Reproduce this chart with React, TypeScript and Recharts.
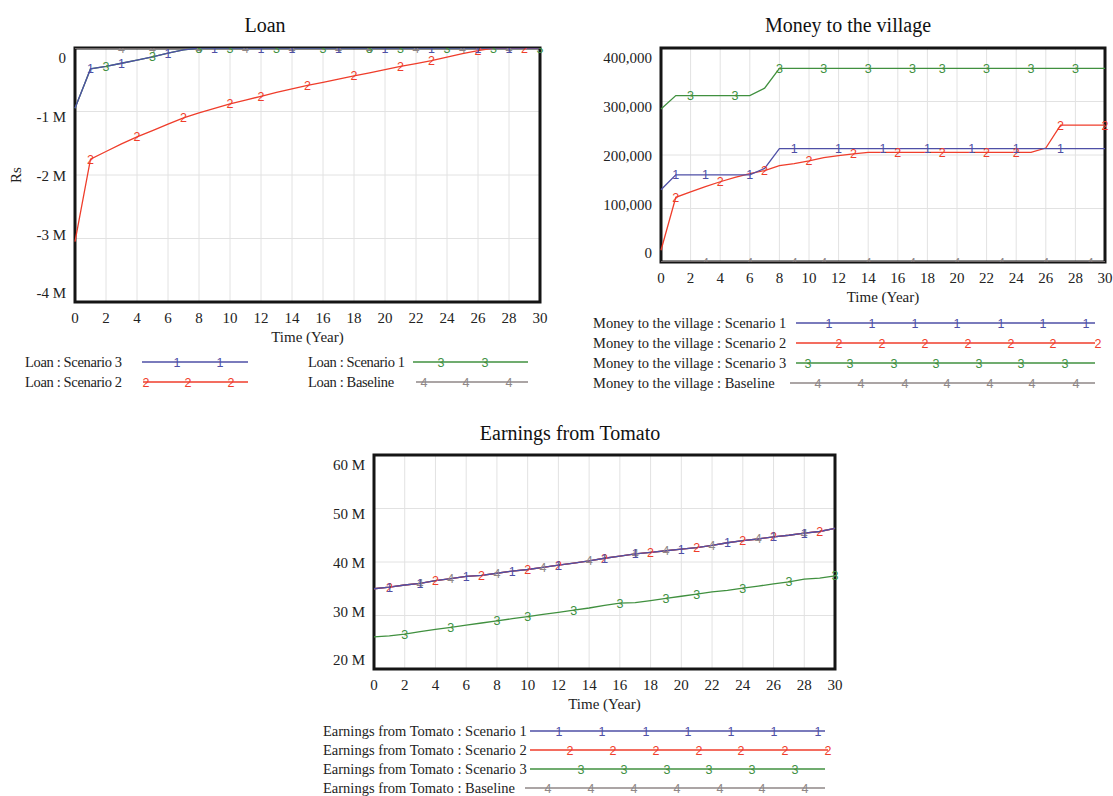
import React from 'react';
import { LineChart, Line, XAxis, YAxis, CartesianGrid, ReferenceArea, Legend } from 'recharts';

const SERIF = '"Liberation Serif", "Times New Roman", serif';
const SANS = '"Liberation Sans", Arial, sans-serif';

const BLUE = '#4e4fa6';
const RED = '#ef3d2b';
const GREEN = '#40903f';
const GRAY = '#8f8787';

// ---------- categories ----------
const years = [0, 1, 2, 3, 4, 5, 6, 7, 8, 9, 10, 11, 12, 13, 14, 15, 16, 17, 18, 19, 20, 21, 22, 23, 24, 25, 26, 27, 28, 29, 30];
const xTicks = [0, 2, 4, 6, 8, 10, 12, 14, 16, 18, 20, 22, 24, 26, 28, 30];

// ---------- Loan (million Rs) ----------
const loanScenario3 = [-0.95, -0.33, -0.29, -0.24, -0.19, -0.14, -0.08, -0.03, 0, 0, 0, 0, 0, 0, 0, 0, 0, 0, 0, 0, 0, 0, 0, 0, 0, 0, 0, 0, 0, 0, 0];
const loanScenario2 = [-3.05, -1.75, -1.63, -1.51, -1.4, -1.3, -1.2, -1.1, -1.02, -0.95, -0.88, -0.82, -0.76, -0.7, -0.645, -0.59, -0.54, -0.49, -0.44, -0.39, -0.34, -0.29, -0.245, -0.2, -0.145, -0.09, -0.04, 0, 0, 0, 0];
const loanScenario1 = [-0.95, -0.33, -0.29, -0.24, -0.19, -0.14, -0.08, -0.03, 0, 0, 0, 0, 0, 0, 0, 0, 0, 0, 0, 0, 0, 0, 0, 0, 0, 0, 0, 0, 0, 0, 0];
const loanBaseline = [0, 0, 0, 0, 0, 0, 0, 0, 0, 0, 0, 0, 0, 0, 0, 0, 0, 0, 0, 0, 0, 0, 0, 0, 0, 0, 0, 0, 0, 0, 0];
const loanTicks = [-4, -3, -2, -1, 0];
const loanMarks3 = [1, 3, 6, 9, 12, 14, 17, 20, 23, 26, 28];
const loanMarks2 = [1, 4, 7, 10, 12, 15, 18, 21, 23, 26, 29];
const loanMarks1 = [2, 5, 8, 10, 13, 16, 19, 21, 24, 27, 30];
const loanMarksBase = [3, 5, 8, 11, 14, 17, 19, 22, 25, 28];

// ---------- Money to the village (Rs) ----------
const moneyScenario1 = [135000, 163000, 163000, 163000, 163000, 163000, 163000, 175000, 212000, 212000, 212000, 212000, 212000, 212000, 212000, 212000, 212000, 212000, 212000, 212000, 212000, 212000, 212000, 212000, 212000, 212000, 212000, 212000, 212000, 212000, 212000];
const moneyScenario2 = [22000, 121000, 131000, 141000, 150000, 158000, 165000, 171000, 180000, 184000, 189000, 195000, 199000, 202000, 205000, 205000, 205000, 205000, 205000, 205000, 205000, 205000, 205000, 205000, 205000, 205000, 213000, 256000, 256000, 256000, 256000];
const moneyScenario3 = [286000, 311000, 311000, 311000, 311000, 311000, 311000, 325000, 362000, 362000, 362000, 362000, 362000, 362000, 362000, 362000, 362000, 362000, 362000, 362000, 362000, 362000, 362000, 362000, 362000, 362000, 362000, 362000, 362000, 362000, 362000];
const moneyBaseline = [0, 0, 0, 0, 0, 0, 0, 0, 0, 0, 0, 0, 0, 0, 0, 0, 0, 0, 0, 0, 0, 0, 0, 0, 0, 0, 0, 0, 0, 0, 0];
const moneyTicks = [0, 100000, 200000, 300000, 400000];
const moneyMarks1 = [1, 3, 6, 9, 12, 15, 18, 21, 24, 27];
const moneyMarks2 = [1, 4, 7, 10, 13, 16, 19, 22, 24, 27, 30];
const moneyMarks3 = [2, 5, 8, 11, 14, 17, 19, 22, 25, 28];
const moneyMarksBase = [3, 6, 9, 11, 14, 17, 20, 23, 26, 29];

// ---------- Earnings from Tomato (million Rs) ----------
const earnScenario1 = [35.0, 35.3, 35.7, 36.0, 36.5, 36.9, 37.3, 37.5, 37.9, 38.3, 38.6, 39.0, 39.4, 39.8, 40.2, 40.7, 41.1, 41.5, 41.8, 42.1, 42.4, 42.7, 43.1, 43.6, 44.0, 44.3, 44.7, 45.0, 45.4, 45.7, 46.3];
const earnScenario2 = [35.0, 35.3, 35.7, 36.0, 36.5, 36.9, 37.3, 37.5, 37.9, 38.3, 38.6, 39.0, 39.4, 39.8, 40.2, 40.7, 41.1, 41.5, 41.8, 42.1, 42.4, 42.7, 43.1, 43.6, 44.0, 44.3, 44.7, 45.0, 45.4, 45.7, 46.3];
const earnScenario3 = [26.0, 26.2, 26.5, 27.0, 27.4, 27.8, 28.2, 28.6, 29.0, 29.4, 29.8, 30.2, 30.6, 31.0, 31.4, 31.9, 32.3, 32.4, 32.8, 33.2, 33.6, 34.0, 34.4, 34.7, 35.1, 35.5, 35.9, 36.3, 36.8, 37.0, 37.4];
const earnBaseline = [35.0, 35.3, 35.7, 36.0, 36.5, 36.9, 37.3, 37.5, 37.9, 38.3, 38.6, 39.0, 39.4, 39.8, 40.2, 40.7, 41.1, 41.5, 41.8, 42.1, 42.4, 42.7, 43.1, 43.6, 44.0, 44.3, 44.7, 45.0, 45.4, 45.7, 46.3];
const earnTicks = [20, 30, 40, 50, 60];
const earnMarks1 = [1, 3, 6, 9, 12, 15, 17, 20, 23, 26, 28];
const earnMarks2 = [1, 4, 7, 10, 12, 15, 18, 21, 24, 26, 29];
const earnMarks3 = [2, 5, 8, 10, 13, 16, 19, 21, 24, 27, 30];
const earnMarksBase = [3, 5, 8, 11, 14, 17, 19, 22, 25, 28];

type SeriesDef = {
  key: string;
  name: string;
  color: string;
  digit: string;
  values: number[];
  markers: number[];
};

type LegendItem = {
  key: string;
  tx: number;
  y: number;
  x1: number;
  x2: number;
  marks: number[];
};

function buildRows(series: SeriesDef[]) {
  return years.map((year, i) => {
    const row: Record<string, number> = { year };
    series.forEach((s) => {
      row[s.key] = s.values[i];
    });
    return row;
  });
}

function makeDot(s: SeriesDef) {
  return (props: any) => {
    const { cx, cy, payload, index } = props;
    const k = `${s.key}-dot-${index}`;
    if (cx == null || cy == null || !payload || !s.markers.includes(payload.year)) {
      return <g key={k} />;
    }
    return (
      <text
        key={k}
        x={cx}
        y={cy}
        dy="0.36em"
        textAnchor="middle"
        fontSize={12.5}
        fontFamily={SANS}
        fill={s.color}
      >
        {s.digit}
      </text>
    );
  };
}

const XTick = (props: any) => {
  const { x, y, payload } = props;
  return (
    <text x={x} y={y + 16} dy="0.35em" textAnchor="middle" fontSize={15} fontFamily={SERIF} fill="#222">
      {payload.value}
    </text>
  );
};

function makeYTick(min: number, max: number, fmt: (v: number) => string) {
  return (props: any) => {
    const { x, y, payload } = props;
    const t = (payload.value - min) / (max - min);
    const shift = -9 + 19 * t;
    return (
      <text x={x} y={y + shift} dy="0.35em" textAnchor="end" fontSize={15} fontFamily={SERIF} fill="#222">
        {fmt(payload.value)}
      </text>
    );
  };
}

function makeLegend(series: SeriesDef[], items: LegendItem[], letterSpacing: number) {
  return () => (
    <div style={{ position: 'relative', width: 0, height: 0 }}>
      {items.map((it) => {
        const s = series.find((q) => q.key === it.key)!;
        return (
          <React.Fragment key={it.key}>
            <div
              style={{
                position: 'absolute',
                left: it.tx,
                top: it.y - 10,
                height: 20,
                lineHeight: '20px',
                fontFamily: SERIF,
                fontSize: 14.5,
                letterSpacing,
                color: '#222',
                whiteSpace: 'nowrap',
              }}
            >
              {s.name}
            </div>
            <svg
              style={{ position: 'absolute', left: it.x1 - 6, top: it.y - 10, overflow: 'visible' }}
              width={it.x2 - it.x1 + 12}
              height={20}
            >
              <line x1={6} y1={10} x2={it.x2 - it.x1 + 6} y2={10} stroke={s.color} strokeWidth={1.3} />
              {it.marks.map((m, i) => (
                <text
                  key={i}
                  x={m - it.x1 + 6}
                  y={10}
                  dy="0.36em"
                  textAnchor="middle"
                  fontSize={12.5}
                  fontFamily={SANS}
                  fill={s.color}
                >
                  {s.digit}
                </text>
              ))}
            </svg>
          </React.Fragment>
        );
      })}
    </div>
  );
}

type ChartProps = {
  left: number;
  top: number;
  width: number;
  height: number;
  margin: { top: number; right: number; bottom: number; left: number };
  yAxisWidth: number;
  series: SeriesDef[];
  legendItems: LegendItem[];
  legendSpacing: number;
  domain: [number, number];
  yTicks: number[];
  yFmt: (v: number) => string;
  yLabel?: string;
};

function VChart(p: ChartProps) {
  const data = buildRows(p.series);
  return (
    <div style={{ position: 'absolute', left: p.left, top: p.top }}>
      <LineChart width={p.width} height={p.height} data={data} margin={p.margin}>
        <CartesianGrid stroke="#e2e2e2" strokeWidth={1} />
        <ReferenceArea
          x1={0}
          x2={30}
          y1={p.domain[0]}
          y2={p.domain[1]}
          fill="none"
          fillOpacity={0}
          stroke="#151515"
          strokeWidth={3}
          ifOverflow="visible"
        />
        <XAxis
          dataKey="year"
          type="number"
          domain={[0, 30]}
          ticks={xTicks}
          interval={0}
          tick={XTick}
          tickLine={false}
          axisLine={false}
          tickSize={0}
          tickMargin={0}
          height={45}
          label={{
            value: 'Time (Year)',
            position: 'insideBottom',
            offset: 5,
            style: { fontFamily: SERIF, fontSize: 15, fill: '#222' },
          }}
        />
        <YAxis
          type="number"
          domain={p.domain}
          ticks={p.yTicks}
          interval={0}
          allowDataOverflow
          tick={makeYTick(p.domain[0], p.domain[1], p.yFmt)}
          tickLine={false}
          axisLine={false}
          tickSize={0}
          tickMargin={9}
          width={p.yAxisWidth}
          label={
            p.yLabel
              ? {
                  value: p.yLabel,
                  angle: -90,
                  position: 'insideLeft',
                  offset: 16,
                  style: { fontFamily: SERIF, fontSize: 15, fill: '#222', textAnchor: 'middle' },
                }
              : undefined
          }
        />
        {p.series.map((s) => (
          <Line
            key={s.key}
            dataKey={s.key}
            name={s.name}
            type="linear"
            stroke={s.color}
            strokeWidth={1.3}
            dot={makeDot(s)}
            activeDot={false}
            isAnimationActive={false}
          />
        ))}
        <Legend
          layout="horizontal"
          verticalAlign="middle"
          align="center"
          wrapperStyle={{ position: 'absolute', left: 0, top: 0, width: 0, height: 0 }}
          content={makeLegend(p.series, p.legendItems, p.legendSpacing)}
        />
      </LineChart>
    </div>
  );
}

// ---------- series definitions (draw order: baseline, 3, 2, 1) ----------
const loanSeries: SeriesDef[] = [
  { key: 'base', name: 'Loan : Baseline', color: GRAY, digit: '4', values: loanBaseline, markers: loanMarksBase },
  { key: 's1', name: 'Loan : Scenario 1', color: GREEN, digit: '3', values: loanScenario1, markers: loanMarks1 },
  { key: 's2', name: 'Loan : Scenario 2', color: RED, digit: '2', values: loanScenario2, markers: loanMarks2 },
  { key: 's3', name: 'Loan : Scenario 3', color: BLUE, digit: '1', values: loanScenario3, markers: loanMarks3 },
];
const loanLegend: LegendItem[] = [
  { key: 's3', tx: 25, y: 362, x1: 142, x2: 248, marks: [177, 220] },
  { key: 's2', tx: 25, y: 382, x1: 143, x2: 248, marks: [146, 188, 231] },
  { key: 's1', tx: 308, y: 362, x1: 413, x2: 528, marks: [441, 485] },
  { key: 'base', tx: 308, y: 382, x1: 416, x2: 528, marks: [424, 466, 509] },
];

const moneySeries: SeriesDef[] = [
  { key: 'base', name: 'Money to the village : Baseline', color: GRAY, digit: '4', values: moneyBaseline, markers: moneyMarksBase },
  { key: 's3', name: 'Money to the village : Scenario 3', color: GREEN, digit: '3', values: moneyScenario3, markers: moneyMarks3 },
  { key: 's2', name: 'Money to the village : Scenario 2', color: RED, digit: '2', values: moneyScenario2, markers: moneyMarks2 },
  { key: 's1', name: 'Money to the village : Scenario 1', color: BLUE, digit: '1', values: moneyScenario1, markers: moneyMarks1 },
];
const moneyLegend: LegendItem[] = [
  { key: 's1', tx: 23, y: 323, x1: 226, x2: 525, marks: [259, 302, 345, 387, 431, 473, 516] },
  { key: 's2', tx: 23, y: 343, x1: 226, x2: 525, marks: [269, 312, 355, 398, 441, 483, 528] },
  { key: 's3', tx: 23, y: 363, x1: 226, x2: 525, marks: [238, 280, 324, 366, 409, 451, 495] },
  { key: 'base', tx: 23, y: 383, x1: 220, x2: 525, marks: [248, 291, 335, 377, 420, 462, 506] },
];

const earnSeries: SeriesDef[] = [
  { key: 'base', name: 'Earnings from Tomato : Baseline', color: GRAY, digit: '4', values: earnBaseline, markers: earnMarksBase },
  { key: 's3', name: 'Earnings from Tomato : Scenario 3', color: GREEN, digit: '3', values: earnScenario3, markers: earnMarks3 },
  { key: 's2', name: 'Earnings from Tomato : Scenario 2', color: RED, digit: '2', values: earnScenario2, markers: earnMarks2 },
  { key: 's1', name: 'Earnings from Tomato : Scenario 1', color: BLUE, digit: '1', values: earnScenario1, markers: earnMarks1 },
];
const earnLegend: LegendItem[] = [
  { key: 's1', tx: 33, y: 321, x1: 240, x2: 535, marks: [269, 312, 356, 398, 441, 484, 528] },
  { key: 's2', tx: 33, y: 340, x1: 240, x2: 538, marks: [280, 323, 366, 409, 451, 495, 538] },
  { key: 's3', tx: 33, y: 359, x1: 240, x2: 535, marks: [291, 334, 377, 419, 462, 505] },
  { key: 'base', tx: 33, y: 378, x1: 235, x2: 535, marks: [258, 301, 344, 387, 430, 472, 515] },
];

const Title = ({ x, y, text }: { x: number; y: number; text: string }) => (
  <div
    style={{
      position: 'absolute',
      left: x,
      top: y,
      transform: 'translate(-50%, -50%)',
      fontFamily: SERIF,
      fontSize: 20,
      color: '#111',
      whiteSpace: 'nowrap',
    }}
  >
    {text}
  </div>
);

export default function App() {
  return (
    <div
      style={{
        position: 'absolute',
        left: 0,
        top: 0,
        width: 1113,
        height: 796,
        background: '#fff',
        overflow: 'hidden',
        fontFamily: SERIF,
      }}
    >
      <Title x={265} y={25} text="Loan" />
      <Title x={848} y={25} text="Money to the village" />
      <Title x={570} y={433} text="Earnings from Tomato" />
      <VChart
        left={0}
        top={0}
        width={560}
        height={400}
        margin={{ top: 48, right: 20, bottom: 53, left: 0 }}
        yAxisWidth={75}
        series={loanSeries}
        legendItems={loanLegend}
        legendSpacing={-0.35}
        domain={[-4, 0]}
        yTicks={loanTicks}
        yFmt={(v) => (v === 0 ? '0' : `${v} M`)}
        yLabel="Rs"
      />
      <VChart
        left={570}
        top={0}
        width={543}
        height={400}
        margin={{ top: 48, right: 8, bottom: 93, left: 0 }}
        yAxisWidth={91}
        series={moneySeries}
        legendItems={moneyLegend}
        legendSpacing={0}
        domain={[0, 400000]}
        yTicks={moneyTicks}
        yFmt={(v) => v.toLocaleString('en-US')}
      />
      <VChart
        left={290}
        top={410}
        width={560}
        height={386}
        margin={{ top: 45, right: 15, bottom: 82, left: 0 }}
        yAxisWidth={84}
        series={earnSeries}
        legendItems={earnLegend}
        legendSpacing={0}
        domain={[20, 60]}
        yTicks={earnTicks}
        yFmt={(v) => `${v} M`}
      />
    </div>
  );
}
